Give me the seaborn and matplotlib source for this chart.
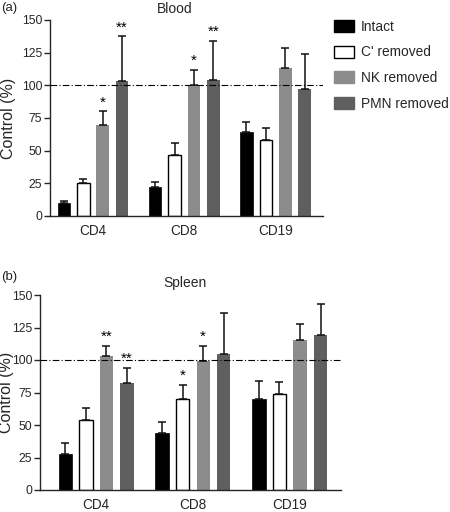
import numpy as np
import pandas as pd
import matplotlib
matplotlib.use("Agg")
import matplotlib.pyplot as plt
import seaborn as sns
from matplotlib.patches import Patch

sns.set_style("ticks")
plt.rcParams['font.family'] = ['Liberation Sans', 'DejaVu Sans']

cells = ["CD4", "CD8", "CD19"]
groups = ["Intact", "C' removed", "NK removed", "PMN removed"]
colors = ["#000000", "#ffffff", "#8c8c8c", "#5f5f5f"]

# Blood: mean values and upper error-bar tops, per group, ordered CD4, CD8, CD19
blood_mean = {
    "Intact": [10, 22, 64],
    "C' removed": [25, 47, 58],
    "NK removed": [70, 100.5, 113.5],
    "PMN removed": [103, 104, 97.5],
}
blood_top = {
    "Intact": [11.5, 26, 72],
    "C' removed": [28, 56, 67],
    "NK removed": [80, 112, 128.5],
    "PMN removed": [137.5, 134, 124],
}
blood_stars = {("NK removed", "CD4"): "*", ("PMN removed", "CD4"): "**",
               ("NK removed", "CD8"): "*", ("PMN removed", "CD8"): "**"}

spleen_mean = {
    "Intact": [28, 44, 70],
    "C' removed": [54, 70, 74],
    "NK removed": [103, 99, 115.5],
    "PMN removed": [82, 105, 119],
}
spleen_top = {
    "Intact": [36, 52, 84],
    "C' removed": [63, 81, 83],
    "NK removed": [111, 111, 128],
    "PMN removed": [94, 136, 143],
}
spleen_stars = {("NK removed", "CD4"): "**", ("PMN removed", "CD4"): "**",
                ("C' removed", "CD8"): "*", ("NK removed", "CD8"): "*"}

yticks = [0, 25, 50, 75, 100, 125, 150]


def make_df(mean):
    rows = []
    for g in groups:
        for c, v in zip(cells, mean[g]):
            rows.append({"cell": c, "group": g, "value": v})
    return pd.DataFrame(rows)


def panel(ax, mean, top, stars, xlim):
    df = make_df(mean)
    sns.barplot(data=df, x="cell", y="value", hue="group", hue_order=groups,
                order=cells, palette=colors, width=0.85, gap=0.35,
                errorbar=None, legend=False, ax=ax, linewidth=0, saturation=1)
    for g, cont in zip(groups, ax.containers):
        xs, vals, errs = [], [], []
        for bar, c in zip(cont, cells):
            if g == "C' removed":
                bar.set_edgecolor("black")
                bar.set_linewidth(1.0)
            elif g == "Intact":
                bar.set_edgecolor("black")
                bar.set_linewidth(0.5)
            x = bar.get_x() + bar.get_width() / 2
            v = bar.get_height()
            t = top[g][cells.index(c)]
            xs.append(x); vals.append(v); errs.append(t - v)
            if (g, c) in stars:
                ax.text(x, t + 1.5, stars[(g, c)], ha="center", va="bottom",
                        fontsize=11, color="black")
        ax.errorbar(xs, vals, yerr=[np.zeros(len(errs)), errs], fmt="none",
                    ecolor="#111111", elinewidth=1.1, capsize=2.6, capthick=1.1,
                    zorder=1)
    ax.axhline(100, color="black", lw=0.8, ls=(0, (6, 2, 1, 2)), zorder=5)
    ax.set_ylim(0, 150)
    ax.set_yticks(yticks)
    ax.set_xlim(*xlim)
    ax.set_xlabel("")
    ax.set_ylabel("Control (%)", fontsize=11.5)
    ax.tick_params(axis="y", labelsize=8.8, length=4, width=1, pad=1.5)
    ax.tick_params(axis="x", labelsize=9.8, length=0, pad=6)
    sns.despine(ax=ax)
    for s in ["left", "bottom"]:
        ax.spines[s].set_linewidth(1.0)


fig = plt.figure(figsize=(4.5, 5.12), dpi=100)
ax1 = fig.add_axes([50 / 450, 1 - 216 / 512, 273 / 450, 196 / 512])
ax2 = fig.add_axes([40 / 450, 1 - 490 / 512, 301 / 450, 195 / 512])

panel(ax1, blood_mean, blood_top, blood_stars, (-0.47, 2.52))
panel(ax2, spleen_mean, spleen_top, spleen_stars, (-0.58, 2.53))

ax1.yaxis.set_label_coords((16 - 50) / 273, 0.5)
ax2.yaxis.set_label_coords((13.5 - 40) / 301, 0.5)

fig.text(175 / 450, 1 - 9 / 512, "Blood", ha="center", va="center", fontsize=10)
fig.text(185 / 450, 1 - 283 / 512, "Spleen", ha="center", va="center", fontsize=10)
fig.text(1 / 450, 1 - 8 / 512, "(a)", ha="left", va="center", fontsize=9.5)
fig.text(1 / 450, 1 - 277 / 512, "(b)", ha="left", va="center", fontsize=9.5)

handles = []
for g, col in zip(groups, colors):
    handles.append(Patch(facecolor=col, edgecolor="black" if g == "C' removed" else col,
                         linewidth=1.0, label=g))
fig.legend(handles=handles, loc="upper left", bbox_to_anchor=(331 / 450, 1 - 17 / 512),
           frameon=False, fontsize=9.9, handlelength=1.45, handleheight=0.95,
           handletextpad=0.5, labelspacing=0.85, borderaxespad=0, borderpad=0.2)

fig.savefig("out.png", dpi=100)
